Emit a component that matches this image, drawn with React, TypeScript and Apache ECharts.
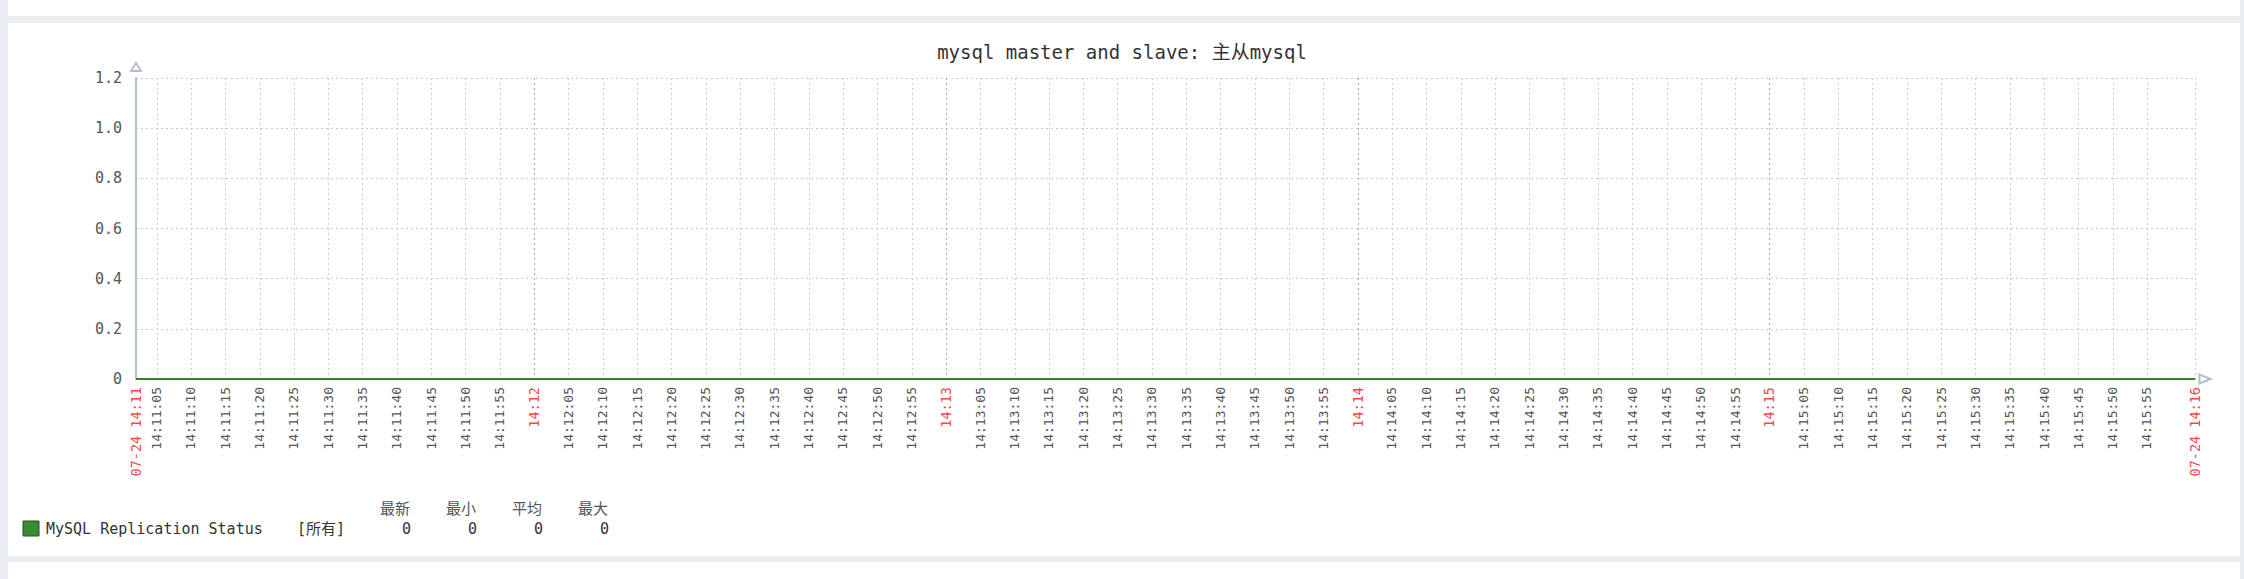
import React, { useEffect, useRef } from "react";
import * as echarts from "echarts";

// ---------- data ----------
const TITLE = "mysql master and slave: 主从mysql";
const BASE_MINUTE = 11; // times are seconds after 14:11:00 on 07-24
const rangeSec = [2, 302];
const rangeEdgeLabels = ["07-24 14:11", "07-24 14:16"];
const xTickLabels = [
  "14:11:05", "14:11:10", "14:11:15", "14:11:20", "14:11:25", "14:11:30",
  "14:11:35", "14:11:40", "14:11:45", "14:11:50", "14:11:55",
  "14:12",
  "14:12:05", "14:12:10", "14:12:15", "14:12:20", "14:12:25", "14:12:30",
  "14:12:35", "14:12:40", "14:12:45", "14:12:50", "14:12:55",
  "14:13",
  "14:13:05", "14:13:10", "14:13:15", "14:13:20", "14:13:25", "14:13:30",
  "14:13:35", "14:13:40", "14:13:45", "14:13:50", "14:13:55",
  "14:14",
  "14:14:05", "14:14:10", "14:14:15", "14:14:20", "14:14:25", "14:14:30",
  "14:14:35", "14:14:40", "14:14:45", "14:14:50", "14:14:55",
  "14:15",
  "14:15:05", "14:15:10", "14:15:15", "14:15:20", "14:15:25", "14:15:30",
  "14:15:35", "14:15:40", "14:15:45", "14:15:50", "14:15:55",
];
const seriesName = "MySQL Replication Status";
const seriesTimes = [2, 62, 122, 182, 242, 302];
const seriesValues = [0, 0, 0, 0, 0, 0];
const yMin = 0;
const yMax = 1.2;
const yStep = 0.2;
const legendFunc = "[所有]";
const statHeaders = ["最新", "最小", "平均", "最大"];
const statValues = [0, 0, 0, 0];

// ---------- styles ----------
const MONO = "'DejaVu Sans Mono', 'Noto Sans CJK SC', monospace";
const AXIS_COLOR = "#b3bfcc";
const GRID_COLOR = "#c8cdd4";
const GRID_MINUTE_COLOR = "#a3a9b1";
const RED = "#f04b4b";
const GREEN = "#2f822b";

type TickItem = { sec: number; label: string; kind: "start" | "end" | "minute" | "sec" };

const labelToSec = (s: string) => {
  const p = s.split(":").map(Number);
  return (p[1] - BASE_MINUTE) * 60 + (p[2] || 0);
};

const tickItems: TickItem[] = [
  { sec: rangeSec[0], label: rangeEdgeLabels[0], kind: "start" },
  ...xTickLabels.map((l) => ({
    sec: labelToSec(l),
    label: l,
    kind: (l.split(":").length === 2 ? "minute" : "sec") as "minute" | "sec",
  })),
  { sec: rangeSec[1], label: rangeEdgeLabels[1], kind: "end" },
];

const statRight = [410, 476, 542, 608];

export default function App() {
  const ref = useRef<HTMLDivElement>(null);

  useEffect(() => {
    if (!ref.current) return;
    const chart = echarts.init(ref.current, undefined, { renderer: "svg" });
    const option: any = {
      animation: false,
      title: {
        text: TITLE,
        left: "center",
        top: 41,
        padding: 0,
        textStyle: { fontFamily: MONO, fontSize: 19, fontWeight: "normal", color: "#333", lineHeight: 21 },
      },
      grid: { left: 136, right: 49, top: 78, bottom: 200, outerBoundsMode: "none", containLabel: false },
      xAxis: {
        type: "value",
        min: rangeSec[0],
        max: rangeSec[1],
        axisLine: {
          show: true,
          symbol: ["none", "emptyTriangle"],
          symbolSize: [9, 11],
          symbolOffset: [0, 10],
          lineStyle: { color: AXIS_COLOR, width: 2 },
        },
        axisTick: { show: false },
        axisLabel: { show: false },
        splitLine: { show: false },
      },
      yAxis: {
        type: "value",
        min: yMin,
        max: yMax,
        interval: yStep,
        axisLine: {
          show: true,
          symbol: ["none", "emptyTriangle"],
          symbolSize: [10, 8],
          symbolOffset: [0, 11],
          lineStyle: { color: AXIS_COLOR, width: 2 },
        },
        axisTick: { show: false },
        axisLabel: {
          show: true,
          margin: 14,
          fontFamily: MONO,
          fontSize: 15,
          color: "#555",
          formatter: (v: number) => (Math.abs(v) < 1e-9 ? "0" : v.toFixed(1)),
        },
        splitLine: { show: true, lineStyle: { color: GRID_COLOR, width: 1, type: [2, 3] } },
      },
      series: [
        {
          type: "custom",
          name: "ticks",
          z: 1,
          silent: true,
          clip: false,
          data: tickItems.map((t) => [t.sec, 0]),
          renderItem: (params: any, api: any) => {
            const item = tickItems[params.dataIndex];
            const pt = api.coord([api.value(0), 0]);
            const cs = params.coordSys;
            const children: any[] = [];
            const x = Math.round(pt[0]) + 0.5;
            if (item.kind !== "start") {
              children.push({
                type: "line",
                shape: { x1: x, y1: cs.y, x2: x, y2: cs.y + cs.height },
                style: {
                  stroke: item.kind === "minute" ? GRID_MINUTE_COLOR : GRID_COLOR,
                  lineWidth: 1,
                  lineDash: [2, 3],
                },
              });
            }
            const red = item.kind !== "sec";
            children.push({
              type: "text",
              x: pt[0],
              y: pt[1] + 8,
              rotation: Math.PI / 2,
              style: {
                text: item.label,
                fill: red ? RED : "#555",
                fontSize: red ? 13.5 : 13,
                fontFamily: MONO,
                align: "right",
                verticalAlign: "middle",
              },
            });
            return { type: "group", children };
          },
        },
        {
          type: "line",
          name: seriesName,
          z: 5,
          symbol: "none",
          lineStyle: { color: GREEN, width: 2 },
          itemStyle: { color: GREEN },
          data: seriesTimes.map((t, i) => [t, seriesValues[i]]),
        },
      ],
      graphic: [
        {
          type: "rect",
          shape: { x: 23, y: 521, width: 16, height: 15 },
          style: { fill: "#3a8b31", stroke: "#24521f", lineWidth: 1 },
        },
        {
          type: "text",
          x: 46,
          y: 529,
          style: { text: seriesName, fontSize: 15, fontFamily: MONO, fill: "#333", verticalAlign: "middle" },
        },
        {
          type: "text",
          x: 297,
          y: 529,
          style: { text: legendFunc, fontSize: 15, fontFamily: MONO, fill: "#333", verticalAlign: "middle" },
        },
        ...statHeaders.map((h, i) => ({
          type: "text",
          x: statRight[i],
          y: 509,
          style: { text: h, fontSize: 15, fontFamily: MONO, fill: "#555", align: "right", verticalAlign: "middle" },
        })),
        ...statValues.map((v, i) => ({
          type: "text",
          x: statRight[i] + 1,
          y: 529,
          style: { text: String(v), fontSize: 15, fontFamily: MONO, fill: "#333", align: "right", verticalAlign: "middle" },
        })),
      ],
    };
    chart.setOption(option);
    return () => chart.dispose();
  }, []);

  const panel = (top: number, height: number): React.CSSProperties => ({
    position: "absolute",
    left: 8,
    top,
    width: 2232,
    height,
    background: "#ffffff",
  });

  return (
    <div
      style={{
        position: "absolute",
        left: 0,
        top: 0,
        width: 2244,
        height: 579,
        background: "#ebeef0",
        overflow: "hidden",
      }}
    >
      <div style={panel(0, 16)} />
      <div style={panel(23, 533)} />
      <div style={panel(562, 17)} />
      <div ref={ref} style={{ position: "absolute", left: 0, top: 0, width: 2244, height: 579 }} />
    </div>
  );
}
